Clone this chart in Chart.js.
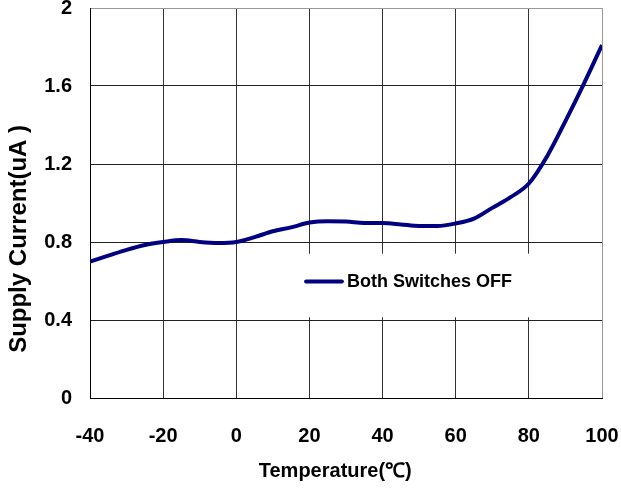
<!DOCTYPE html>
<html>
<head>
<meta charset="utf-8">
<script src="https://cdn.jsdelivr.net/npm/chart.js@4.4.1/dist/chart.umd.min.js"></script>
<style>
  html, body { margin: 0; padding: 0; background: #fff; }
  #wrap { width: 621px; height: 488px; }
</style>
</head>
<body>
<div id="wrap"><canvas id="chart"></canvas></div>
<script>
// temperature (degC) and supply current (uA)
const temps = [-40, -35, -30, -25, -20, -15, -10, -5, 0, 5, 10, 15, 20, 25, 30,
  35, 40, 45, 50, 55, 60, 65, 70, 75, 80, 85, 90, 95, 100];
const current = [0.70, 0.73, 0.76, 0.785, 0.80, 0.81, 0.80, 0.795, 0.80, 0.825, 0.855, 0.875, 0.90, 0.907, 0.905,
  0.898, 0.897, 0.89, 0.882, 0.882, 0.895, 0.92, 0.975, 1.03, 1.10, 1.24, 1.42, 1.61, 1.81];
const seriesName = 'Both Switches OFF';
const xTitle = 'Temperature(\u2103)';
const yTitle = 'Supply Current(uA )';

const FONT = "'Liberation Sans', Arial, sans-serif";
const LINE = '#000080';

// white legend box inside the plot plus hand-placed axis titles
const overlay = {
  id: 'overlay',
  afterDatasetsDraw(chart) {
    const { ctx, chartArea: a } = chart;
    const w = a.right - a.left, h = a.bottom - a.top;
    ctx.save();
    ctx.fillStyle = '#fff';
    ctx.fillRect(a.left + w * 0.408, a.top + h * 0.630, w * 0.46, h * 0.163);
    const ly = a.top + h * 0.701;
    ctx.strokeStyle = LINE;
    ctx.lineWidth = 4;
    ctx.lineCap = 'round';
    ctx.beginPath();
    ctx.moveTo(a.left + w * 0.422, ly);
    ctx.lineTo(a.left + w * 0.492, ly);
    ctx.stroke();
    ctx.fillStyle = '#000';
    ctx.font = 'bold 18px ' + FONT;
    ctx.textBaseline = 'middle';
    ctx.textAlign = 'left';
    ctx.fillText(seriesName, a.left + w * 0.502, ly + 1);
    ctx.restore();
  },
  afterDraw(chart) {
    const { ctx, chartArea: a } = chart;
    ctx.save();
    ctx.fillStyle = '#000';
    ctx.textAlign = 'center';
    ctx.textBaseline = 'middle';
    ctx.font = 'bold 20px ' + FONT;
    ctx.fillText(xTitle, a.left + (a.right - a.left) * 0.479, 471);
    ctx.font = 'bold 24px ' + FONT;
    ctx.translate(19, a.top + (a.bottom - a.top) * 0.592);
    ctx.rotate(-Math.PI / 2);
    ctx.fillText(yTitle, 0, 0);
    ctx.restore();
  }
};

new Chart(document.getElementById('chart'), {
  type: 'line',
  data: {
    datasets: [{
      label: seriesName,
      data: temps.map((t, i) => ({ x: t, y: current[i] })),
      borderColor: LINE,
      borderWidth: 4,
      pointRadius: 0,
      tension: 0.4,
      cubicInterpolationMode: 'monotone',
      fill: false
    }]
  },
  options: {
    responsive: true,
    maintainAspectRatio: false,
    animation: false,
    layout: { padding: { top: 8, right: 19, left: 0, bottom: 0 } },
    plugins: { legend: { display: false }, tooltip: { enabled: false } },
    scales: {
      x: {
        type: 'linear',
        min: -40,
        max: 100,
        ticks: {
          stepSize: 20,
          padding: 26,
          color: '#000',
          font: { family: FONT, size: 20, weight: 'bold' }
        },
        grid: {
          drawTicks: false,
          lineWidth: 1,
          color: ctx => (ctx.tick && ctx.tick.value === 100) ? '#999' : '#333'
        },
        border: { color: '#000', width: 1 },
        afterFit(scale) {
          scale.height = 90;
          scale.paddingLeft = 0;
          scale.paddingRight = 0;
        }
      },
      y: {
        min: 0,
        max: 2,
        ticks: {
          stepSize: 0.4,
          padding: 18,
          color: '#000',
          font: { family: FONT, size: 20, weight: 'bold' },
          callback: v => String(Math.round(v * 10) / 10)
        },
        grid: {
          drawTicks: false,
          lineWidth: 1,
          color: ctx => (ctx.tick && ctx.tick.value === 2) ? '#999' : '#222'
        },
        border: { color: '#000', width: 1 },
        afterFit(scale) {
          scale.width = 90;
          scale.paddingTop = 0;
          scale.paddingBottom = 0;
        }
      }
    }
  },
  plugins: [overlay]
});
</script>
</body>
</html>
